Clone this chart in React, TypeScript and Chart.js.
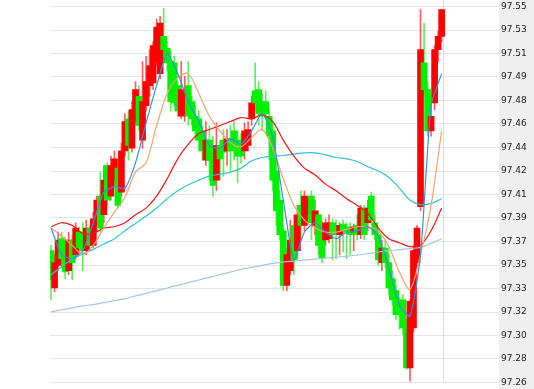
import React, { useEffect, useRef } from 'react';
import { Chart, registerables } from 'chart.js';

Chart.register(...registerables);

// Candles (index 0..111)
const OPEN = [
  97.363, 97.335, 97.352, 97.372, 97.367, 97.348, 97.371, 97.360, 97.377, 97.375,
  97.363, 97.380, 97.367, 97.382, 97.404, 97.390, 97.427, 97.404, 97.416, 97.425,
  97.407, 97.438, 97.462, 97.440, 97.460, 97.479, 97.446, 97.472, 97.487, 97.489,
  97.505, 97.496, 97.524, 97.515, 97.505, 97.504, 97.487, 97.464, 97.466, 97.487,
  97.475, 97.464, 97.462, 97.453, 97.431, 97.446, 97.442, 97.416, 97.442, 97.446,
  97.438, 97.447, 97.453, 97.446, 97.444, 97.438, 97.442, 97.462, 97.483, 97.484,
  97.474, 97.475, 97.464, 97.453, 97.423, 97.401, 97.378, 97.337, 97.348, 97.382,
  97.363, 97.397, 97.382, 97.390, 97.404, 97.382, 97.390, 97.382, 97.371, 97.372,
  97.384, 97.382, 97.375, 97.383, 97.381, 97.380, 97.377, 97.382, 97.375, 97.395,
  97.384, 97.404, 97.384, 97.375, 97.354, 97.365, 97.354, 97.342, 97.333, 97.325,
  97.326, 97.305, 97.275, 97.305, 97.354, 97.396, 97.504, 97.484, 97.453, 97.474,
  97.514, 97.524,
];
const CLOSE = [
  97.341, 97.354, 97.371, 97.357, 97.347, 97.371, 97.354, 97.380, 97.365, 97.363,
  97.380, 97.367, 97.387, 97.401, 97.380, 97.416, 97.401, 97.427, 97.432, 97.397,
  97.438, 97.460, 97.442, 97.469, 97.484, 97.457, 97.475, 97.490, 97.502, 97.517,
  97.531, 97.534, 97.514, 97.504, 97.475, 97.474, 97.468, 97.484, 97.483, 97.464,
  97.462, 97.453, 97.446, 97.438, 97.446, 97.431, 97.412, 97.442, 97.432, 97.437,
  97.447, 97.438, 97.442, 97.434, 97.434, 97.453, 97.454, 97.474, 97.474, 97.466,
  97.464, 97.466, 97.449, 97.416, 97.393, 97.375, 97.337, 97.360, 97.371, 97.356,
  97.390, 97.382, 97.404, 97.402, 97.384, 97.393, 97.367, 97.357, 97.384, 97.384,
  97.375, 97.377, 97.382, 97.378, 97.377, 97.375, 97.381, 97.375, 97.395, 97.375,
  97.395, 97.386, 97.375, 97.356, 97.365, 97.354, 97.335, 97.326, 97.315, 97.315,
  97.305, 97.275, 97.325, 97.363, 97.380, 97.514, 97.484, 97.453, 97.464, 97.514,
  97.524, 97.544,
];
const HIGH = [
  97.367, 97.360, 97.377, 97.377, 97.373, 97.377, 97.375, 97.384, 97.381, 97.384,
  97.386, 97.382, 97.392, 97.404, 97.422, 97.427, 97.429, 97.434, 97.438, 97.431,
  97.444, 97.466, 97.468, 97.475, 97.490, 97.487, 97.505, 97.509, 97.514, 97.520,
  97.537, 97.539, 97.545, 97.520, 97.513, 97.509, 97.490, 97.505, 97.494, 97.505,
  97.479, 97.472, 97.468, 97.457, 97.460, 97.457, 97.449, 97.459, 97.446, 97.454,
  97.454, 97.457, 97.460, 97.453, 97.451, 97.459, 97.460, 97.479, 97.504, 97.490,
  97.481, 97.483, 97.469, 97.460, 97.431, 97.408, 97.382, 97.365, 97.386, 97.390,
  97.397, 97.408, 97.408, 97.404, 97.408, 97.401, 97.393, 97.386, 97.387, 97.390,
  97.387, 97.386, 97.384, 97.386, 97.384, 97.384, 97.383, 97.390, 97.397, 97.397,
  97.401, 97.407, 97.390, 97.380, 97.371, 97.371, 97.360, 97.348, 97.337, 97.328,
  97.330, 97.311, 97.326, 97.367, 97.382, 97.544, 97.534, 97.490, 97.475, 97.517,
  97.528, 97.544,
];
const LOW = [
  97.326, 97.332, 97.348, 97.350, 97.342, 97.345, 97.341, 97.357, 97.362, 97.348,
  97.360, 97.363, 97.365, 97.378, 97.377, 97.384, 97.397, 97.401, 97.412, 97.395,
  97.404, 97.434, 97.431, 97.437, 97.457, 97.453, 97.440, 97.468, 97.479, 97.484,
  97.502, 97.492, 97.505, 97.498, 97.468, 97.472, 97.464, 97.462, 97.460, 97.457,
  97.457, 97.446, 97.438, 97.431, 97.427, 97.416, 97.404, 97.408, 97.416, 97.419,
  97.427, 97.423, 97.431, 97.414, 97.429, 97.432, 97.438, 97.457, 97.468, 97.457,
  97.453, 97.462, 97.431, 97.408, 97.382, 97.371, 97.333, 97.333, 97.345, 97.345,
  97.357, 97.371, 97.378, 97.384, 97.371, 97.375, 97.360, 97.354, 97.367, 97.369,
  97.356, 97.357, 97.360, 97.362, 97.357, 97.360, 97.363, 97.371, 97.372, 97.371,
  97.378, 97.383, 97.371, 97.352, 97.348, 97.350, 97.330, 97.322, 97.311, 97.304,
  97.300, 97.274, 97.265, 97.302, 97.350, 97.393, 97.479, 97.449, 97.449, 97.469,
  97.505, 97.520,
];

// Moving averages, read every MA_STEP bars (bar 0, 3, 6, ... 111)
const MA_STEP = 3;
const MA_FAST = [
  97.380, 97.360, 97.357, 97.363, 97.384, 97.407, 97.411, 97.410, 97.429, 97.459,
  97.487, 97.511, 97.496, 97.475, 97.460, 97.442, 97.440, 97.447, 97.443, 97.453,
  97.466, 97.448, 97.401, 97.356, 97.377, 97.384, 97.377, 97.372, 97.377, 97.378,
  97.381, 97.374, 97.350, 97.322, 97.314, 97.360, 97.472, 97.496,
];
const MA_MID = [
  97.380, 97.374, 97.367, 97.360, 97.367, 97.380, 97.392, 97.403, 97.422, 97.429,
  97.457, 97.481, 97.493, 97.496, 97.481, 97.464, 97.453, 97.444, 97.441, 97.448,
  97.454, 97.440, 97.417, 97.397, 97.386, 97.380, 97.377, 97.377, 97.379, 97.381,
  97.381, 97.378, 97.366, 97.347, 97.334, 97.360, 97.397, 97.453,
];
const MA_SLOW = [
  97.381, 97.384, 97.382, 97.376, 97.376, 97.380, 97.381, 97.384, 97.390, 97.395,
  97.404, 97.417, 97.432, 97.443, 97.451, 97.454, 97.457, 97.460, 97.463, 97.462,
  97.465, 97.460, 97.446, 97.434, 97.425, 97.420, 97.413, 97.408, 97.402, 97.397,
  97.391, 97.380, 97.372, 97.369, 97.366, 97.367, 97.378, 97.395,
];
const MA_LONG = [
  97.3450, 97.3510, 97.3565, 97.3605, 97.3640, 97.3680, 97.3720, 97.3780, 97.3835, 97.3890,
  97.3950, 97.4020, 97.4080, 97.4125, 97.4160, 97.4190, 97.4205, 97.4220, 97.4250, 97.4305,
  97.4330, 97.4340, 97.4345, 97.4355, 97.4365, 97.4365, 97.4350, 97.4330, 97.4320, 97.4300,
  97.4260, 97.4230, 97.4180, 97.4100, 97.4010, 97.3975, 97.3985, 97.4020,
];
const MA_XLONG = [
  97.3170, 97.3185, 97.3200, 97.3215, 97.3225, 97.3240, 97.3255, 97.3270, 97.3290, 97.3310,
  97.3330, 97.3350, 97.3370, 97.3390, 97.3410, 97.3430, 97.3450, 97.3470, 97.3490, 97.3505,
  97.3520, 97.3535, 97.3545, 97.3552, 97.3560, 97.3567, 97.3574, 97.3581, 97.3588, 97.3597,
  97.3607, 97.3620, 97.3630, 97.3638, 97.3646, 97.3655, 97.3685, 97.3720,
];

const Y_TICK_LABELS = [
  '97.26', '97.28', '97.30', '97.32', '97.33', '97.35', '97.37', '97.39', '97.41',
  '97.42', '97.44', '97.46', '97.48', '97.49', '97.51', '97.53', '97.55',
];
const Y_MIN = 97.264;
const Y_MAX = 97.5464;
const X_MIN = -0.3;
const X_MAX = 127.3;
const MARKER_INDEX = 111.3;

const UP = '#ff0000';
const DOWN = '#00f000';
const UP_WICK = 'rgba(255,40,40,0.75)';
const DOWN_WICK = 'rgba(40,235,40,0.75)';

export default function App() {
  const ref = useRef<HTMLCanvasElement>(null);

  useEffect(() => {
    document.body.style.margin = '0';
    const canvas = ref.current;
    if (!canvas) return;
    const idx = OPEN.map((_, i) => i);
    const isUp = (i: number) => CLOSE[i] >= OPEN[i];

    const line = (vals: number[], color: string, tension: number) => ({
      type: 'line' as const,
      data: vals.map((v, k) => ({ x: k * MA_STEP, y: v })),
      borderColor: color,
      borderWidth: 1.2,
      pointRadius: 0,
      pointHoverRadius: 0,
      tension,
      fill: false,
      order: 0,
    });

    const bgPlugin = {
      id: 'bgband',
      beforeDraw(chart: any) {
        const { ctx, chartArea, width, height } = chart;
        ctx.save();
        ctx.fillStyle = '#ffffff';
        ctx.fillRect(0, 0, width, height);
        ctx.fillStyle = '#efefef';
        ctx.fillRect(chartArea.right, 0, width - chartArea.right, height);
        ctx.restore();
      },
      beforeDatasetsDraw(chart: any) {
        const { ctx, chartArea } = chart;
        const x = Math.round(chart.scales.x.getPixelForValue(MARKER_INDEX)) + 0.5;
        ctx.save();
        ctx.strokeStyle = '#dedede';
        ctx.lineWidth = 1;
        ctx.beginPath();
        ctx.moveTo(x, 0);
        ctx.lineTo(x, chartArea.bottom);
        ctx.stroke();
        ctx.restore();
      },
    };

    const chart = new Chart(canvas, {
      type: 'bar',
      data: {
        datasets: [
          line(MA_FAST, '#3a8ee8', 0.2),
          line(MA_MID, '#f0a474', 0.3),
          line(MA_SLOW, '#f01818', 0.3),
          line(MA_LONG, '#30c4d4', 0.4),
          line(MA_XLONG, '#a6c6e4', 0.4),
          {
            type: 'bar',
            data: idx.map((i) => ({ x: i, y: [OPEN[i], CLOSE[i]] })),
            backgroundColor: idx.map((i) => (isUp(i) ? UP : DOWN)),
            borderWidth: 0,
            barThickness: 6,
            grouped: false,
            order: 1,
          } as any,
          {
            type: 'bar',
            data: idx.map((i) => ({ x: i, y: [LOW[i], HIGH[i]] })),
            backgroundColor: idx.map((i) => (isUp(i) ? UP_WICK : DOWN_WICK)),
            borderWidth: 0,
            barThickness: 1,
            grouped: false,
            order: 2,
          } as any,
        ],
      },
      options: {
        animation: false,
        responsive: false,
        devicePixelRatio: 1,
        events: [],
        layout: { padding: { left: 50, top: 5, right: 0, bottom: 6 } },
        plugins: { legend: { display: false }, tooltip: { enabled: false } },
        scales: {
          x: {
            type: 'linear',
            min: X_MIN,
            max: X_MAX,
            offset: false,
            display: false,
          },
          y: {
            type: 'linear',
            position: 'right',
            min: Y_MIN,
            max: Y_MAX,
            afterBuildTicks: (scale: any) => {
              const n = Y_TICK_LABELS.length - 1;
              scale.ticks = Y_TICK_LABELS.map((_, i) => ({
                value: Y_MIN + (i * (Y_MAX - Y_MIN)) / n,
              }));
            },
            afterFit: (scale: any) => {
              scale.width = 35;
            },
            border: { display: false },
            grid: { color: '#e6e6e6', lineWidth: 1, drawTicks: false },
            ticks: {
              padding: 2,
              color: '#222222',
              font: { family: 'DejaVu Sans', size: 9, lineHeight: 1 },
              callback: (_v: any, i: number) => Y_TICK_LABELS[i],
            },
          },
        },
      },
      plugins: [bgPlugin],
    });

    return () => chart.destroy();
  }, []);

  return (
    <div style={{ width: 534, height: 389 }}>
      <canvas ref={ref} width={534} height={389} style={{ display: 'block' }} />
    </div>
  );
}
